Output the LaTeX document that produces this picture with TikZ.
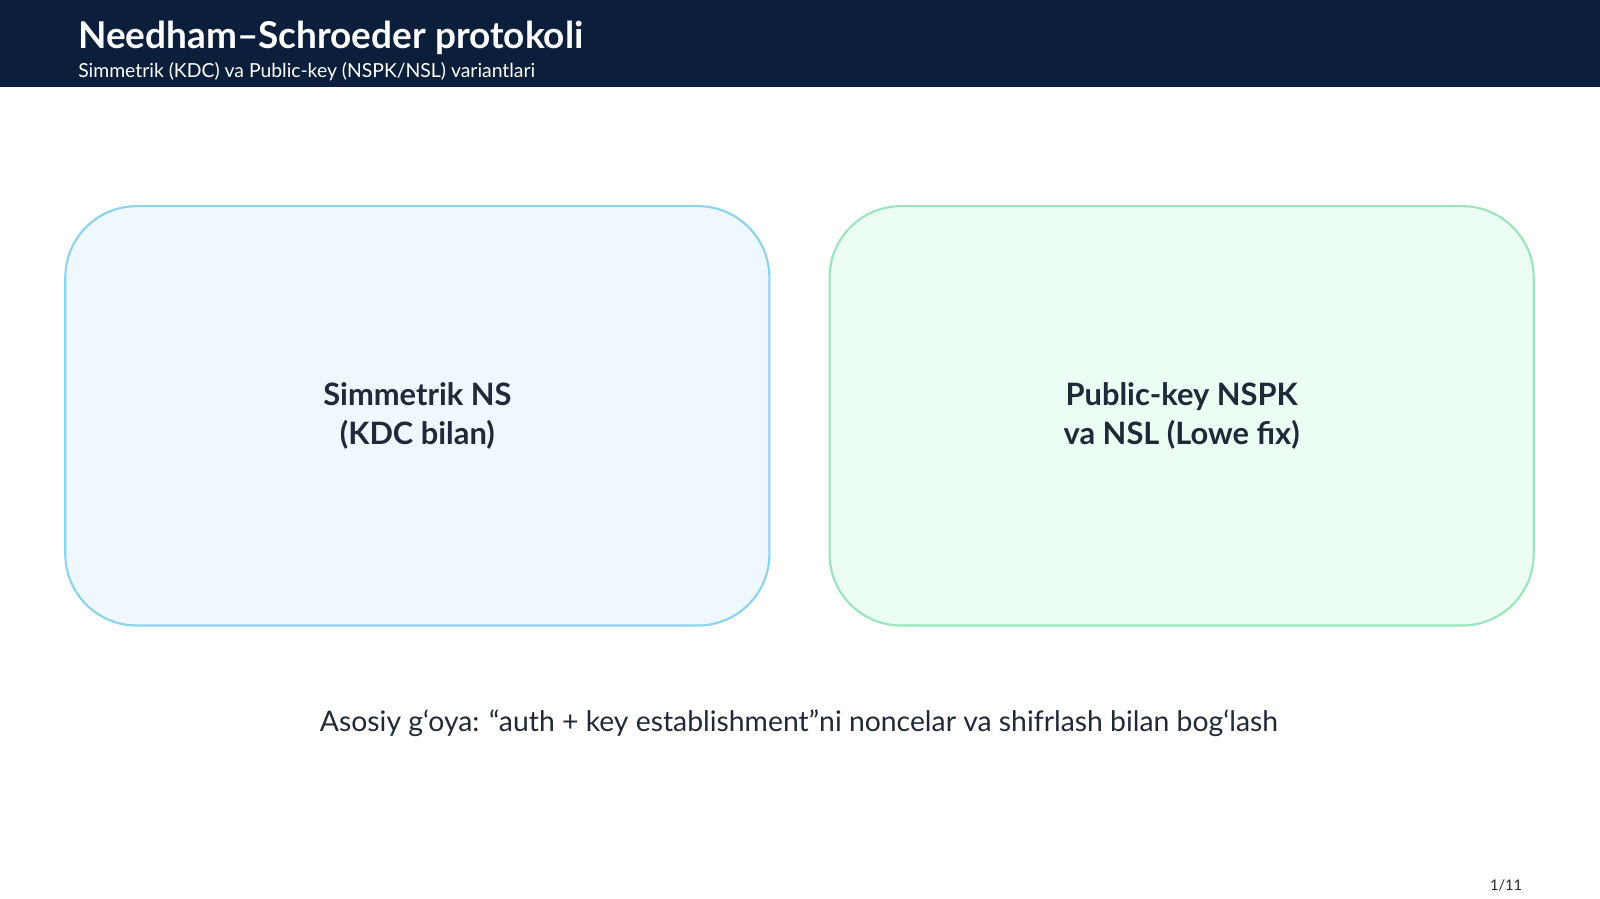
\documentclass[tikz,border=0pt]{standalone}
\usepackage{fontspec}
\setmainfont{Lato}
\usetikzlibrary{positioning}
\definecolor{navy}{HTML}{0B1F3A}
\definecolor{inkc}{HTML}{1F2937}
\definecolor{bluefill}{HTML}{EFF8FF}
\definecolor{blueline}{HTML}{8DD3EC}
\definecolor{greenfill}{HTML}{ECFDF3}
\definecolor{greenline}{HTML}{9BE5BC}
\tikzset{
  card/.style={draw, line width=0.6pt, rounded corners=0.7cm, minimum width=6.9cm, minimum height=4.11cm, align=center, text=inkc, font=\fontsize{8.6}{11}\selectfont\bfseries},
}
\begin{document}
\begin{tikzpicture}
        \useasboundingbox (0,0) rectangle (15.68,-8.81);
        \fill[navy] (0,0) rectangle (15.68,-0.85);
        \node[anchor=base west, text=white, font=\fontsize{10.3}{12}\selectfont\bfseries, inner sep=0] (title) at (0.76,-0.48) {Needham–Schroeder protokoli};
        \node[anchor=base west, text=white, font=\fontsize{5.4}{6}\selectfont, inner sep=0] (sub) at (0.76,-0.76) {Simmetrik (KDC) va Public-key (NSPK/NSL) variantlari};

        \node[card, fill=bluefill, draw=blueline] (sym) at (4.09,-4.075) {Simmetrik NS\\(KDC bilan)};
        \node[card, fill=greenfill, draw=greenline] (pub) at (11.58,-4.075) {Public-key NSPK\\va NSL (Lowe fix)};

        \node[text=inkc, font=\fontsize{7.9}{9}\selectfont] (idea) at (7.83,-7.09) {Asosiy g‘oya: “auth + key establishment”ni noncelar va shifrlash bilan bog‘lash};
        \node[text=inkc, font=\fontsize{4.1}{5}\selectfont] (page) at (14.76,-8.68) {1/11};
    \end{tikzpicture}
\end{document}
